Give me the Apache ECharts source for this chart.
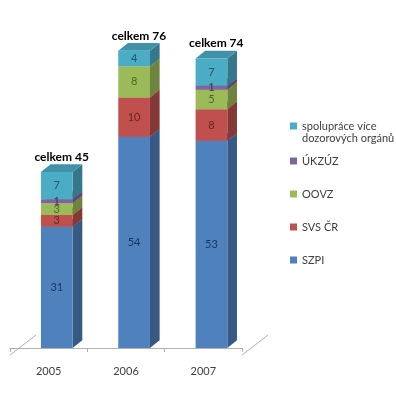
<!DOCTYPE html>
<html><head><meta charset="utf-8">
<script src="https://cdn.jsdelivr.net/npm/echarts@6/dist/echarts.min.js"></script>
<style>html,body{margin:0;padding:0;background:#fff}#c{width:396px;height:399px}</style>
</head><body><div id="c"></div>
<script>
const years = ['2005', '2006', '2007'];
const seriesNames = ['SZPI', 'SVS ČR', 'OOVZ', 'ÚKZÚZ', 'spolupráce více dozorových orgánů'];
const szpi = [31, 54, 53];
const svs = [3, 10, 8];
const oovz = [3, 8, 5];
const ukzuz = [1, 0, 1];
const spoluprace = [7, 4, 7];
const totals = [45, 76, 74];
const totalPrefix = 'celkem ';

const values = [szpi, svs, oovz, ukzuz, spoluprace];
const colors = ['#4F81BD', '#C0504D', '#9BBB59', '#8064A2', '#4BACC6'];
const labelColors = ['#17365D', '#632523', '#4F6228', '#3F3151', '#215968'];
const FONT = 'Lato, "Open Sans", sans-serif';

function shade(hex, f) {
  const n = parseInt(hex.slice(1), 16);
  const r = Math.round(((n >> 16) & 255) * f), g = Math.round(((n >> 8) & 255) * f), b = Math.round((n & 255) * f);
  return 'rgb(' + r + ',' + g + ',' + b + ')';
}

function geom(api, cat) {
  const band = api.size([1, 0])[0];
  return { band: band, w: band * 0.41, off: band * 0.105, dx: band * 0.125, dy: -band * 0.1 };
}

function makeRender(idx) {
  return function (params, api) {
    const cat = api.value(0), base = api.value(1), top = api.value(2), val = api.value(3);
    if (!(val > 0)) return null;
    const p0 = api.coord([cat, base]);
    const p1 = api.coord([cat, top]);
    const g = geom(api, cat);
    const x0 = p0[0] + g.off - g.w / 2, x1 = x0 + g.w;
    const yb = p0[1], yt = p1[1];
    const c = colors[idx];
    return {
      type: 'group',
      children: [
        { type: 'polygon', shape: { points: [[x1, yb], [x1, yt], [x1 + g.dx, yt + g.dy], [x1 + g.dx, yb + g.dy]] }, style: { fill: shade(c, 0.7) } },
        { type: 'polygon', shape: { points: [[x0, yt], [x1, yt], [x1 + g.dx, yt + g.dy], [x0 + g.dx, yt + g.dy]] }, style: { fill: shade(c, 0.85) } },
        { type: 'rect', shape: { x: x0, y: yt, width: g.w, height: yb - yt }, style: { fill: c } },
        { type: 'text', z2: 100, style: { text: String(val), x: (x0 + x1) / 2, y: (yb + yt) / 2, align: 'center', verticalAlign: 'middle', fill: labelColors[idx], fontSize: 11, fontFamily: FONT } }
      ]
    };
  };
}

const cum = years.map(() => 0);
const series = values.map((arr, idx) => {
  const data = arr.map((v, j) => { const b = cum[j]; cum[j] += v; return [j, b, b + v, v]; });
  return {
    name: seriesNames[idx], type: 'custom', renderItem: makeRender(idx),
    itemStyle: { color: colors[idx] }, encode: { x: 0, y: [1, 2] }, data: data, z: 2
  };
});
series.push({
  name: 'celkem', type: 'custom', z: 3,
  encode: { x: 0, y: 1 },
  data: totals.map((t, j) => [j, t]),
  renderItem: function (params, api) {
    const cat = api.value(0), t = api.value(1);
    const p = api.coord([cat, t]);
    const g = geom(api, cat);
    return { type: 'text', style: { text: totalPrefix + t, x: p[0] + g.off + g.dx * 0.5, y: p[1] - 15, align: 'center', verticalAlign: 'middle', fill: '#000', fontSize: 12, fontWeight: 'bold', fontFamily: FONT } };
  }
});

const chart = echarts.init(document.getElementById('c'), null, { renderer: 'canvas' });
chart.setOption({
  backgroundColor: '#fff',
  animation: false,
  grid: { left: 10, right: 154, top: 35, bottom: 51 },
  xAxis: {
    type: 'category', data: years, offset: 7,
    axisLine: { lineStyle: { color: '#b0b0b0' } },
    axisTick: { show: true, length: 4, lineStyle: { color: '#b0b0b0' } },
    axisLabel: { color: '#404040', fontSize: 11, fontFamily: FONT, margin: 11 }
  },
  yAxis: { type: 'value', min: 0, max: 80, show: false },
  legend: [
    {
      data: [seriesNames[4]], orient: 'vertical', left: 290, top: 108, padding: 0,
      icon: 'rect', itemWidth: 7, itemHeight: 7, itemGap: 21,
      formatter: function (n) { return '\n' + n.replace(' dozorových', '\ndozorových'); },
      textStyle: { fontSize: 11, lineHeight: 12, color: '#404040', fontFamily: FONT }
    },
    {
      data: [seriesNames[3], seriesNames[2], seriesNames[1], seriesNames[0]], orient: 'vertical', left: 290, top: 155, padding: 0,
      icon: 'rect', itemWidth: 7, itemHeight: 7, itemGap: 21,
      textStyle: { fontSize: 11, lineHeight: 12, color: '#404040', fontFamily: FONT }
    }
  ],
  graphic: [
    { type: 'line', shape: { x1: 10, y1: 355, x2: 36, y2: 335 }, style: { stroke: '#b0b0b0', lineWidth: 1 } },
    { type: 'line', shape: { x1: 242, y1: 355, x2: 268, y2: 335 }, style: { stroke: '#b0b0b0', lineWidth: 1 } }
  ],
  series: series
});
</script></body></html>
